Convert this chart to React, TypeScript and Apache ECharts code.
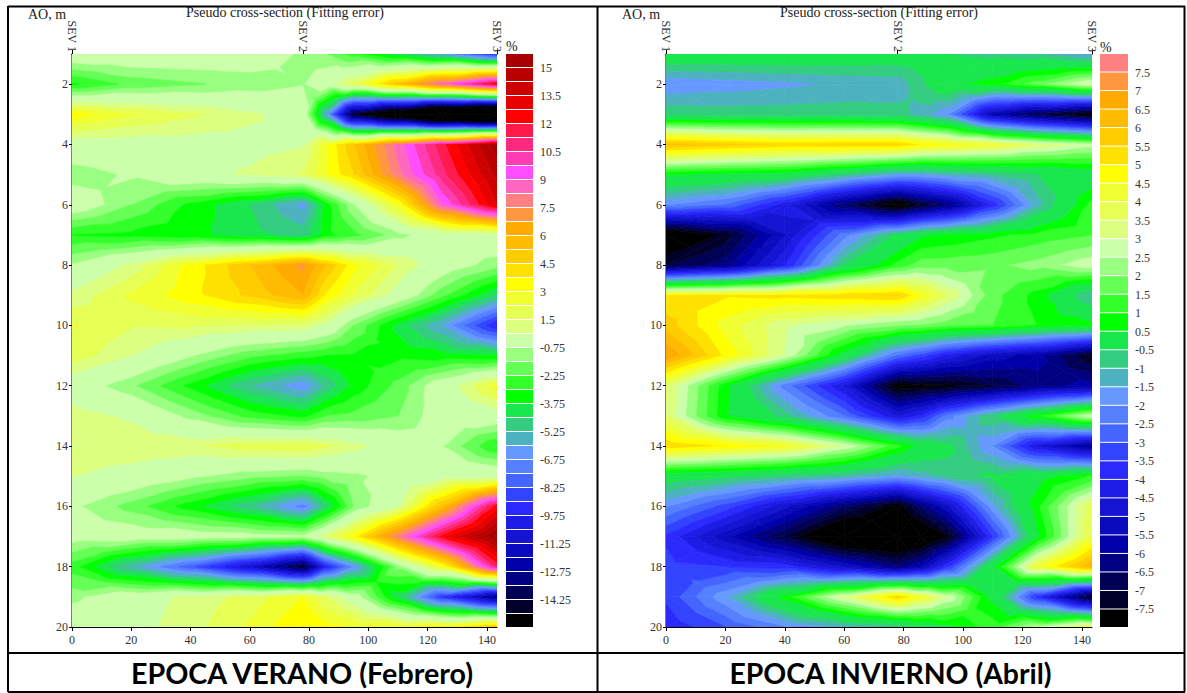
import React, { useEffect, useRef } from "react";
import * as echarts from "echarts";

const SERIF = "'Liberation Serif', serif";

const depths = [1, 2, 3, 4, 5, 6, 7, 8, 9, 10, 11, 12, 13, 14, 15, 16, 17, 18, 19, 20];
const distances = [0, 20, 40, 60, 78, 86, 95, 110, 125, 143.4];
const xTicks = [0, 20, 40, 60, 80, 100, 120, 140];
const yTicks = [2, 4, 6, 8, 10, 12, 14, 16, 18, 20];
const sevPositions = [0, 78, 143.4];
const sevLabels = ["SEV 1", "SEV 2", "SEV 3"];

const veranoValues = [
  [0.3, 0.3, 0.2, 0, -0.9, -1.5, -2.6, -4.2, -6, -9],
  [-3.1, -2.0, -1.6, -1.2, -0.8, 0.2, 2, 5.5, 9, 13],
  [3.5, 2.4, 1.7, 0.95, 0.2, -6, -14.5, -18, -22, -24],
  [0.2, 0.2, 0.3, 0.4, 0.7, 3, 5.2, 8.6, 11.8, 15.5],
  [-1.2, -0.6, 0.4, 0.9, 1.6, 3, 4.5, 8, 11, 14.5],
  [0.2, -1.5, -3.2, -4.5, -6.2, -3.3, -0.8, 3, 9, 13.5],
  [-3, -3.2, -3.5, -4.2, -4.8, -3.2, -2.5, -1, 0, 0.5],
  [-0.6, 1, 3.3, 5.25, 7, 5.2, 3.3, 1.5, 0, -1.2],
  [1, 2.4, 3.5, 4.7, 6, 3.6, 2.2, 0.3, -2, -4.5],
  [2.3, 1.6, 1.7, 1.5, 1.4, 0.5, -1.5, -4, -6, -9.7],
  [2, 0.8, -0.6, -2, -2.7, -3, -3.1, -3.2, -3.4, -3.6],
  [0, -1.3, -3.2, -5.2, -6.5, -5, -3.5, -2, 0.1, 2.7],
  [1.2, 0.6, -1, -2.5, -3.2, -2.2, -2, -1.5, -0.1, 0.2],
  [1.3, 1.4, 1.4, 2, 2.2, 1.7, 1.1, 0.1, -0.7, -3],
  [0.8, 0.3, -0.5, -1.2, -1.5, -1.1, -0.9, -0.4, 0.2, 0.4],
  [-0.5, -1.8, -3.4, -5, -7, -4.5, -1.5, 0.7, 5.5, 12.5],
  [-0.2, 0, 0, -0.2, -0.4, 1.5, 3.5, 8, 12.5, 16],
  [-2.6, -5.5, -8, -11, -14.5, -9.5, -6.5, -1.2, 3, 11.5],
  [-1, 0.2, 1, 1.8, 3, 1.5, 0, -4.2, -9, -13],
  [0.2, 0.4, 1.2, 2.4, 3.8, 3.3, 3, 3, 3.5, 5.3],
];

const inviernoValues = [
  [0.2, 0.2, 0.2, 0.1, 0, -0.2, -0.5, -0.7, -0.9, -1.6],
  [-1.9, -1.75, -1.6, -1.4, -1.3, -0.6, 0.3, 0.8, 1.8, 3.2],
  [-0.6, -0.7, -0.7, -0.7, -0.8, -1.2, -1.9, -5.5, -6.8, -7.8],
  [6.2, 5.8, 5.5, 5.6, 5.6, 5, 4.7, 4.3, 3.5, 2.8],
  [0.6, 0.4, 0.2, -0.7, -1.5, -1.5, -1.2, -0.9, -0.5, 0],
  [-1.9, -2.5, -4.2, -6.5, -8.2, -7.2, -6.3, -3.8, -1.2, 1.2],
  [-8.5, -7.3, -5, -2.2, -0.3, 0.4, 0.6, 0.9, 1.2, 1.5],
  [-7, -6.2, -4, -0.5, 1.2, 1.8, 1.8, 1.9, 2.2, 2.9],
  [5, 5.1, 5.2, 5.4, 5.6, 4.6, 3.5, 1.7, 0.8, -1.1],
  [5.8, 4.3, 3.1, 2.6, 2.1, 2, 1.7, 1.5, 1, 0.7],
  [7, 4.9, 3, 0.2, -2.5, -3.2, -4.2, -5.2, -5.8, -7.4],
  [3.6, 0.7, -2.2, -4.5, -7.9, -7.7, -7.6, -7, -6.2, -5.8],
  [3.5, 0.6, -0.7, -2.5, -4.5, -3.8, -2.2, -0.5, 1, 3],
  [5.5, 5, 4.5, 3, 1.2, 0.2, -0.3, -2, -4.5, -6],
  [0, -0.3, -0.7, -1, -1.6, -1.2, -0.8, -0.3, 0.2, 1.1],
  [-1.9, -3.2, -4.8, -6.5, -7.8, -6.4, -5, -1.6, 0.9, 3.9],
  [-3.6, -5.3, -7, -9, -9, -8.6, -7.5, -3.5, 0.4, 4.1],
  [-3.3, -3.5, -3.7, -5, -6.3, -5.5, -3.5, 0.3, 4.3, 6.6],
  [-3.4, -1.6, 0.8, 3.3, 5.6, 4.4, 3, 0.3, -3.6, -7.4],
  [-3.9, -3, -2, -1.3, -0.8, -0.2, 0.4, 1.3, 2.7, 4.2],
];

const veranoColors = [
  "#a80000", "#b80000", "#cc0000", "#e60000", "#ff0000", "#ff1a4d", "#ff2a80", "#ff3cb4", "#ff4dff", "#ff66c0",
  "#ff8080", "#ff9640", "#ffaa00", "#ffbb00", "#ffcc00", "#ffe100", "#ffff00", "#f0ff30", "#e6ff55", "#dcff80",
  "#ccffaa", "#99ff80", "#66ff55", "#33ff2a", "#00ff00", "#1ae64d", "#33cc80", "#4db2bf", "#6699ff", "#5580ff",
  "#4466ff", "#3344ff", "#2a2aff", "#1c1ce6", "#1414d2", "#0a0abe", "#0000aa", "#000080", "#000055", "#00002a",
  "#000000",
];
const inviernoColors = [
  "#ff8080", "#ff9640", "#ffaa00", "#ffbb00", "#ffcc00", "#ffe100", "#ffff00", "#f0ff30", "#e6ff55", "#dcff80",
  "#ccffaa", "#99ff80", "#66ff55", "#33ff2a", "#00ff00", "#1ae64d", "#33cc80", "#4db2bf", "#6699ff", "#5580ff",
  "#4466ff", "#3344ff", "#2a2aff", "#1c1ce6", "#1414d2", "#0a0abe", "#0000aa", "#000080", "#000055", "#00002a",
  "#000000",
];

const veranoLevels = [
  15, 14.25, 13.5, 12.75, 12, 11.25, 10.5, 9.75, 9, 8.25, 7.5, 6.75, 6, 5.25, 4.5, 3.75, 3, 2.25, 1.5, 0.75,
  -0.75, -1.5, -2.25, -3, -3.75, -4.5, -5.25, -6, -6.75, -7.5, -8.25, -9, -9.75, -10.5, -11.25, -12, -12.75, -13.5, -14.25, -15,
];
const inviernoLevels = [
  7.5, 7, 6.5, 6, 5.5, 5, 4.5, 4, 3.5, 3, 2.5, 2, 1.5, 1, 0.5,
  -0.5, -1, -1.5, -2, -2.5, -3, -3.5, -4, -4.5, -5, -5.5, -6, -6.5, -7, -7.5,
];

const veranoLegendLabels = [
  "15", "13.5", "12", "10.5", "9", "7.5", "6", "4.5", "3", "1.5",
  "-0.75", "-2.25", "-3.75", "-5.25", "-6.75", "-8.25", "-9.75", "-11.25", "-12.75", "-14.25",
];
const inviernoLegendLabels = [
  "7.5", "7", "6.5", "6", "5.5", "5", "4.5", "4", "3.5", "3", "2.5", "2", "1.5", "1", "0.5",
  "-0.5", "-1", "-1.5", "-2", "-2.5", "-3", "-3.5", "-4", "-4.5", "-5", "-5.5", "-6", "-6.5", "-7", "-7.5",
];

type V = [number, number, number];

function clip(poly: V[], limit: number, keepAbove: boolean): V[] {
  const out: V[] = [];
  const inside = (p: V) => (keepAbove ? p[2] >= limit : p[2] <= limit);
  for (let i = 0; i < poly.length; i++) {
    const a = poly[i];
    const b = poly[(i + 1) % poly.length];
    const ia = inside(a);
    const ib = inside(b);
    if (ia) out.push(a);
    if (ia !== ib) {
      const t = (limit - a[2]) / (b[2] - a[2]);
      out.push([a[0] + (b[0] - a[0]) * t, a[1] + (b[1] - a[1]) * t, limit]);
    }
  }
  return out;
}

function cellBands(values: number[][], levels: number[], colors: string[]) {
  const bands: { fill: string; pts: number[][] }[][] = [];
  for (let r = 0; r < depths.length - 1; r++) {
    for (let c = 0; c < distances.length - 1; c++) {
      const p00: V = [distances[c], depths[r], values[r][c]];
      const p10: V = [distances[c + 1], depths[r], values[r][c + 1]];
      const p11: V = [distances[c + 1], depths[r + 1], values[r + 1][c + 1]];
      const p01: V = [distances[c], depths[r + 1], values[r + 1][c]];
      const mid: V = [
        (p00[0] + p10[0]) / 2,
        (p00[1] + p01[1]) / 2,
        (p00[2] + p10[2] + p11[2] + p01[2]) / 4,
      ];
      const tris: V[][] = [[p00, p10, mid], [p10, p11, mid], [p11, p01, mid], [p01, p00, mid]];
      const polys: { fill: string; pts: number[][] }[] = [];
      for (const tri of tris) {
        for (let k = 0; k < colors.length; k++) {
          const hi = k === 0 ? Infinity : levels[k - 1];
          const lo = k === colors.length - 1 ? -Infinity : levels[k];
          let poly: V[] = tri;
          if (hi !== Infinity) poly = clip(poly, hi, false);
          if (poly.length && lo !== -Infinity) poly = clip(poly, lo, true);
          if (poly.length >= 3) polys.push({ fill: colors[k], pts: poly.map((p) => [p[0], p[1]]) });
        }
      }
      bands.push(polys);
    }
  }
  return bands;
}

function contourSeries(values: number[][], levels: number[], colors: string[], axis: number) {
  const cells = cellBands(values, levels, colors);
  return {
    type: "custom",
    coordinateSystem: "cartesian2d",
    xAxisIndex: axis,
    yAxisIndex: axis,
    silent: true,
    clip: true,
    encode: { x: 0, y: 1 },
    data: cells.map((_, i) => [0, 1, i]),
    renderItem: (params: any, api: any) => {
      const polys = cells[api.value(2)];
      return {
        type: "group",
        children: polys.map((p) => ({
          type: "polygon",
          shape: { points: p.pts.map((q) => api.coord(q)) },
          style: { fill: p.fill, stroke: p.fill, lineWidth: 0.7 },
        })),
      };
    },
  };
}

function legendSeries(colors: string[], axis: number) {
  return {
    type: "custom",
    coordinateSystem: "cartesian2d",
    xAxisIndex: axis,
    yAxisIndex: axis,
    silent: true,
    encode: { x: 0, y: 1 },
    data: colors.map((_, i) => [0, i, i]),
    renderItem: (params: any, api: any) => {
      const i = api.value(2);
      const a = api.coord([0, i]);
      const b = api.coord([1, i + 1]);
      return {
        type: "rect",
        shape: { x: a[0], y: a[1], width: b[0] - a[0], height: b[1] - a[1] - 1 },
        style: { fill: colors[i] },
      };
    },
  };
}

const tickLabel = { fontFamily: SERIF, fontSize: 12, color: "#333" };
const axisLine = { show: true, lineStyle: { color: "#000", width: 1 } };
const rightLine = { show: true, lineStyle: { color: "#555", width: 1.5 } };

function mainXAxes(gridIndex: number) {
  return [
    {
      type: "value",
      gridIndex,
      position: "bottom",
      min: 0,
      max: 143.4,
      splitLine: { show: false },
      axisLine,
      axisTick: { show: true, length: 4, lineStyle: { color: "#000" }, customValues: xTicks },
      axisLabel: { ...tickLabel, margin: 7, customValues: xTicks },
    },
    {
      type: "value",
      gridIndex,
      position: "top",
      min: 0,
      max: 143.4,
      splitLine: { show: false },
      axisLine,
      axisTick: { show: true, length: 4, lineStyle: { color: "#000" }, customValues: sevPositions },
      axisLabel: {
        ...tickLabel,
        fontSize: 12,
        margin: 2,
        rotate: 90,
        customValues: sevPositions,
        formatter: (v: number) => sevLabels[sevPositions.indexOf(v)],
      },
    },
  ];
}

function mainYAxes(gridIndex: number) {
  return [
    {
      type: "value",
      gridIndex,
      position: "left",
      inverse: true,
      min: 1,
      max: 20,
      splitLine: { show: false },
      axisLine,
      axisTick: { show: true, length: 3, lineStyle: { color: "#000" }, customValues: yTicks },
      axisLabel: { ...tickLabel, margin: 4, customValues: yTicks },
    },
    {
      type: "value",
      gridIndex,
      position: "right",
      inverse: true,
      min: 1,
      max: 20,
      splitLine: { show: false },
      axisLine: rightLine,
      axisTick: { show: true, length: 3, lineStyle: { color: "#000" }, customValues: yTicks },
      axisLabel: { show: false },
    },
  ];
}

function legendAxes(gridIndex: number, count: number, labels: string[], step: number) {
  const stops = labels.map((_, i) => step * i + 1);
  return {
    x: { type: "value", gridIndex, min: 0, max: 1, show: false },
    y: {
      type: "value",
      gridIndex,
      position: "right",
      inverse: true,
      min: 0,
      max: count,
      splitLine: { show: false },
      axisLine: { show: false },
      axisTick: { show: false },
      axisLabel: {
        ...tickLabel,
        margin: 7,
        customValues: stops,
        formatter: (v: number) => labels[stops.indexOf(v)],
      },
    },
  };
}

function textEl(text: string, x: number, y: number, style: any) {
  return { type: "text", x, y, silent: true, style: { text, textVerticalAlign: "middle", fill: "#222", ...style } };
}

function frameLine(x1: number, y1: number, x2: number, y2: number, w = 2) {
  return { type: "line", silent: true, shape: { x1, y1, x2, y2 }, style: { stroke: "#000", lineWidth: w } };
}

export default function App() {
  const ref = useRef<HTMLDivElement>(null);
  useEffect(() => {
    const chart = echarts.init(ref.current!, undefined, { renderer: "svg" });
    const legL = legendAxes(2, veranoColors.length, veranoLegendLabels, 2);
    const legR = legendAxes(3, inviernoColors.length, inviernoLegendLabels, 1);
    const [lxb, lxt] = mainXAxes(0);
    const [lyl, lyr] = mainYAxes(0);
    const [rxb, rxt] = mainXAxes(1);
    const [ryl, ryr] = mainYAxes(1);
    chart.setOption({
      animation: false,
      backgroundColor: "#fff",
      grid: [
        { left: 72, top: 54, width: 425, height: 573 },
        { left: 666, top: 54, width: 426, height: 573 },
        { left: 506, top: 54, width: 27, height: 574 },
        { left: 1100, top: 54, width: 28, height: 574 },
      ],
      xAxis: [lxb, rxb, legL.x, legR.x, lxt, rxt],
      yAxis: [lyl, ryl, legL.y, legR.y, lyr, ryr],
      series: [
        contourSeries(veranoValues, veranoLevels, veranoColors, 0),
        contourSeries(inviernoValues, inviernoLevels, inviernoColors, 1),
        legendSeries(veranoColors, 2),
        legendSeries(inviernoColors, 3),
      ],
      graphic: [
        frameLine(8, 6.5, 1185, 6.5),
        frameLine(8, 6, 8, 692),
        frameLine(597.5, 6, 597.5, 692),
        frameLine(1184.5, 6, 1184.5, 692),
        frameLine(8, 653, 1185, 653),
        frameLine(8, 692, 1185, 692),
        textEl("AO, m", 28, 14, { font: `14px ${SERIF}` }),
        textEl("AO, m", 622, 14, { font: `14px ${SERIF}` }),
        textEl("Pseudo cross-section (Fitting error)", 285, 12.5, { font: `14px ${SERIF}`, textAlign: "center" }),
        textEl("Pseudo cross-section (Fitting error)", 879, 12.5, { font: `14px ${SERIF}`, textAlign: "center" }),
        textEl("%", 506, 46, { font: `14px ${SERIF}` }),
        textEl("%", 1100, 47, { font: `14px ${SERIF}` }),
        textEl("EPOCA VERANO (Febrero)", 302, 673, { font: `bold 28.7px Lato`, textAlign: "center", fill: "#000" }),
        textEl("EPOCA INVIERNO (Abril)", 890.5, 673, { font: `bold 28.4px Lato`, textAlign: "center", fill: "#000" }),
      ],
    });
    return () => chart.dispose();
  }, []);
  return (
    <div
      ref={ref}
      style={{ position: "fixed", left: 0, top: 0, width: 1187, height: 693, background: "#fff" }}
    />
  );
}
